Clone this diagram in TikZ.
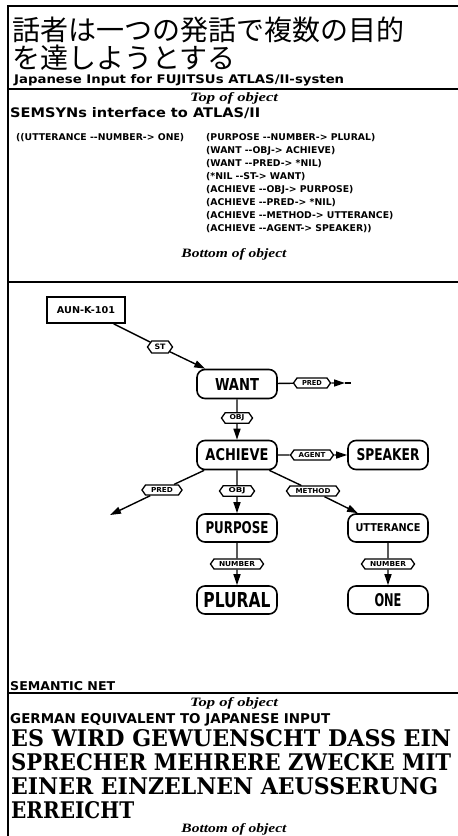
\documentclass[tikz,border=0pt]{standalone}
\usepackage{fontspec}
\usepackage{graphicx}
\setmainfont{DejaVu Serif}
\newfontfamily\jpfont{Noto Sans CJK JP}
\newfontfamily\pixfont{DejaVu Sans}
\newfontfamily\topfont{Liberation Serif}
\newfontfamily\gerfont{DejaVu Serif}
\usetikzlibrary{arrows.meta,shapes.symbols}
\newcommand\fitw[2]{\resizebox{#1pt}{!}{#2}}
\newcommand\fitwh[3]{\resizebox{#1pt}{#2pt}{#3}}
\newcommand\dd{-{}-}
\begin{document}
\begin{tikzpicture}[x=1pt,y=-1pt,
  txt/.style={inner sep=0pt,anchor=base west},
  frameline/.style={line width=2.4pt},
  sepline/.style={line width=1.8pt},
  topobj/.style={inner sep=0pt,anchor=base,font=\topfont\bfseries\itshape},
  codeline/.style={inner sep=0pt,anchor=base west,font=\pixfont\bfseries\fontsize{9.3}{9.3}\selectfont},
  netnode/.style={draw,line width=1.6pt,rounded corners=8pt,minimum width=80pt,minimum height=29pt,inner sep=0pt,font=\pixfont\bfseries},
  boxnode/.style={draw,line width=1.8pt,minimum width=78pt,minimum height=26pt,inner sep=0pt,font=\pixfont\bfseries},
  lab/.style={draw,line width=1.3pt,signal,signal to=east and west,signal pointer angle=110,inner xsep=1pt,inner ysep=2pt,minimum height=10pt,fill=white,font=\pixfont\bfseries},
  edge/.style={line width=1.4pt},
  arr/.style={edge,-{Triangle[length=11pt,width=7pt]}},
]
\useasboundingbox (0,0) rectangle (458,836);
\fill[white] (0,0) rectangle (458,836);
% frame
\coordinate (tl) at (7,6);
\coordinate (tr) at (458,6);
\coordinate (ltop) at (8,5);
\coordinate (bl) at (8,836);
\draw[frameline] (tl) -- (tr);
\draw[frameline] (ltop) -- (bl);
% separators
\coordinate (s1a) at (8,89);  \coordinate (s1b) at (458,89);
\coordinate (s2a) at (8,282); \coordinate (s2b) at (458,282);
\coordinate (s3a) at (8,693); \coordinate (s3b) at (458,693);
\draw[sepline] (s1a) -- (s1b);
\draw[sepline] (s2a) -- (s2b);
\draw[sepline] (s3a) -- (s3b);

% title
\node[txt,font=\jpfont\fontsize{28}{28}\selectfont] (jp1) at (12,40) {話者は一つの発話で複数の目的};
\node[txt,font=\jpfont\fontsize{28}{28}\selectfont] (jp2) at (12,68) {を達しようとする};
\node[txt,font=\pixfont\bfseries] (jin) at (14,83) {\fitwh{330}{9}{Japanese Input for FUJITSUs ATLAS/II-systen}};

% SEMSYN section
\node[topobj] (top1) at (234,101) {\fitwh{88}{9}{Top of object}};
\node[txt,font=\pixfont\bfseries] (sem) at (10,117) {\fitwh{250}{10}{SEMSYNs interface to ATLAS/II}};
\node[codeline] (c0) at (16,140) {((UTTERANCE \dd NUMBER-> ONE)};
\node[codeline] (c1) at (206,140) {(PURPOSE \dd NUMBER-> PLURAL)};
\node[codeline] (c2) at (206,153) {(WANT \dd OBJ-> ACHIEVE)};
\node[codeline] (c3) at (206,166) {(WANT \dd PRED-> *NIL)};
\node[codeline] (c4) at (206,179) {(*NIL \dd ST-> WANT)};
\node[codeline] (c5) at (206,192) {(ACHIEVE \dd OBJ-> PURPOSE)};
\node[codeline] (c6) at (206,205) {(ACHIEVE \dd PRED-> *NIL)};
\node[codeline] (c7) at (206,218) {(ACHIEVE \dd METHOD-> UTTERANCE)};
\node[codeline] (c8) at (206,231) {(ACHIEVE \dd AGENT-> SPEAKER))};
\node[topobj] (bot1) at (234,257) {\fitwh{105}{9}{Bottom of object}};

% semantic net
\node[boxnode] (AUN) at (86,310) {\fitwh{58}{7}{AUN-K-101}};
\node[netnode] (WANT) at (237,384) {\fitwh{44}{12}{WANT}};
\node[netnode] (ACH) at (237,455) {\fitwh{63}{12}{ACHIEVE}};
\node[netnode] (SPK) at (388,455) {\fitwh{63}{12}{SPEAKER}};
\node[netnode,minimum height=28pt] (PUR) at (237,528) {\fitwh{63}{12}{PURPOSE}};
\node[netnode,minimum height=28pt] (UTT) at (388,528) {\fitwh{65}{8}{UTTERANCE}};
\node[netnode,minimum height=28pt] (PLU) at (237,600) {\fitwh{67}{15}{PLURAL}};
\node[netnode,minimum height=28pt] (ONE) at (388,600) {\fitwh{27}{13}{ONE}};

\coordinate (pred1tip) at (345,383);
\coordinate (pred1end) at (351,383);
\coordinate (pred2end) at (110,515);

\node[lab,minimum width=25pt,minimum height=12pt] (lST) at (160,347) {\fitwh{11}{5.5}{ST}};
\node[lab,minimum width=37pt] (lPRED1) at (312,383) {\fitwh{20}{5}{PRED}};
\node[lab,minimum width=31pt] (lOBJ1) at (237,418) {\fitwh{15}{5}{OBJ}};
\node[lab,minimum width=43pt] (lAGT) at (312,455) {\fitwh{27}{5}{AGENT}};
\node[lab,minimum width=40pt] (lPRED2) at (162,490) {\fitwh{22}{5}{PRED}};
\node[lab,minimum width=35pt] (lOBJ2) at (237,491) {\fitwh{17}{5}{OBJ}};
\node[lab,minimum width=53pt] (lMTH) at (313,491) {\fitwh{35}{5}{METHOD}};
\node[lab,minimum width=53pt] (lNUM1) at (237,564) {\fitwh{36}{5}{NUMBER}};
\node[lab,minimum width=53pt] (lNUM2) at (388,564) {\fitwh{36}{5}{NUMBER}};

\draw[edge] (AUN) -- (lST);
\draw[arr] (lST) -- (WANT);
\draw[edge] (WANT) -- (lPRED1);
\draw[arr] (lPRED1) -- (pred1tip);
\draw[edge] (pred1tip) -- (pred1end);
\draw[edge] (WANT) -- (lOBJ1);
\draw[arr] (lOBJ1) -- (ACH);
\draw[edge] (ACH) -- (lAGT);
\draw[arr] (lAGT) -- (SPK);
\draw[edge] (ACH) -- (lPRED2);
\draw[arr] (lPRED2) -- (pred2end);
\draw[edge] (ACH) -- (lOBJ2);
\draw[arr] (lOBJ2) -- (PUR);
\draw[edge] (ACH) -- (lMTH);
\draw[arr] (lMTH) -- (UTT);
\draw[edge] (PUR) -- (lNUM1);
\draw[arr] (lNUM1) -- (PLU);
\draw[edge] (UTT) -- (lNUM2);
\draw[arr] (lNUM2) -- (ONE);

\node[txt,font=\pixfont\bfseries] (snet) at (10,690) {\fitwh{105}{9}{SEMANTIC NET}};

% German section
\node[topobj] (top2) at (234,706) {\fitwh{88}{9}{Top of object}};
\node[txt,font=\pixfont\bfseries] (geq) at (10,723) {\fitwh{320}{10}{GERMAN EQUIVALENT TO JAPANESE INPUT}};
\node[txt,font=\gerfont\bfseries] (g1) at (11,746) {\fitwh{440}{17}{ES WIRD GEWUENSCHT DASS EIN}};
\node[txt,font=\gerfont\bfseries] (g2) at (11,770) {\fitwh{440}{17}{SPRECHER MEHRERE ZWECKE MIT}};
\node[txt,font=\gerfont\bfseries] (g3) at (11,794) {\fitwh{427}{17}{EINER EINZELNEN AEUSSERUNG}};
\node[txt,font=\gerfont\bfseries] (g4) at (11,818) {\fitwh{123}{17}{ERREICHT}};
\node[topobj] (bot2) at (234,832) {\fitwh{105}{9}{Bottom of object}};
\end{tikzpicture}
\end{document}
